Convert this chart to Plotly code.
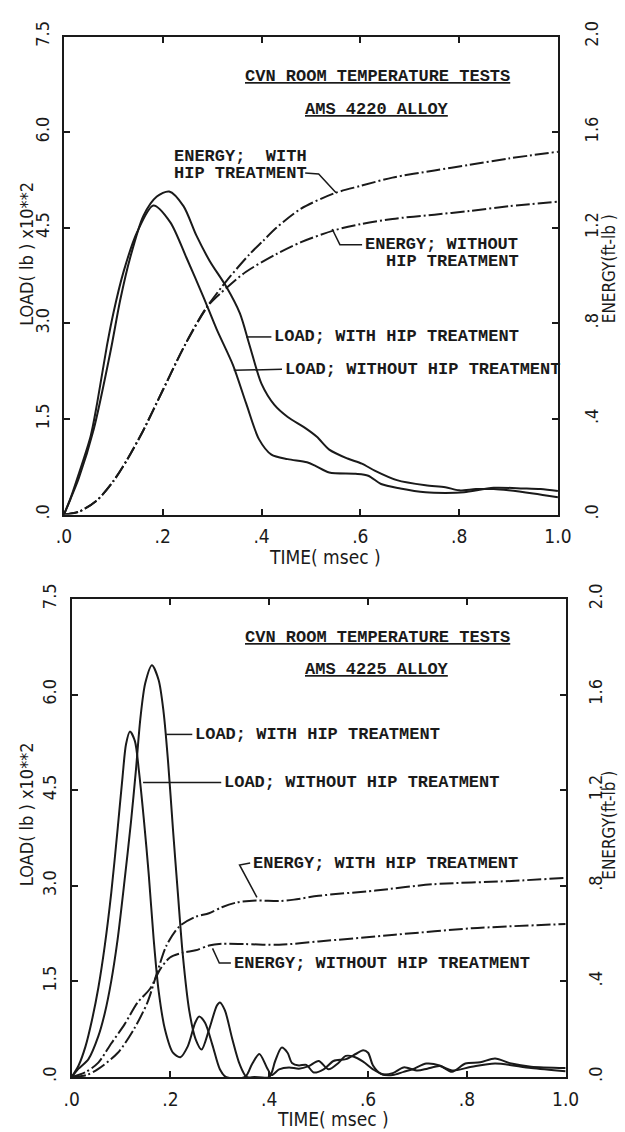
import plotly.graph_objects as go

# ---------------- data ----------------
# AMS 4220 alloy (upper panel)
time_4220_load_hip = [0, .013, .03, .06, .094, .114, .134, .161, .188, .213, .242, .268, .295, .329, .356,
                      .376, .40, .426, .453, .488, .512, .537, .574, .603, .629, .674, .732, .772, .80, .834,
                      .87, .90, .95, 1.0]
load_4220_hip = [0, .24, .57, 1.33, 2.55, 3.37, 4.03, 4.69, 4.99, 5.07, 4.84, 4.38, 3.98, 3.57, 3.16,
                 2.65, 2.05, 1.72, 1.53, 1.36, 1.22, 1.02, .88, .80, .69, .54, .46, .43, .38, .40,
                 .40, .38, .33, .27]

time_4220_load_nohip = [0, .013, .027, .054, .067, .087, .10, .121, .148, .181, .215, .248, .282, .309, .342,
                        .369, .395, .42, .453, .492, .51, .537, .59, .616, .642, .681, .732, .772, .81, .87,
                        .93, .965, 1.0]
load_4220_nohip = [0, .25, .57, 1.23, 1.74, 2.65, 3.16, 3.82, 4.43, 4.85, 4.59, 4.03, 3.42, 2.91, 2.35,
                   1.74, 1.18, .94, .87, .82, .76, .66, .64, .61, .48, .41, .35, .34, .35, .42,
                   .41, .40, .37]

time_4220_energy_hip = [0, .03, .067, .1, .128, .16, .2, .245, .29, .33, .376, .403, .43, .48, .548, .6,
                        .665, .75, .82, .9, 1.0]
energy_4220_hip = [0, .012, .06, .14, .23, .35, .52, .71, .87, .98, 1.09, 1.145, 1.20, 1.28, 1.345, 1.375,
                   1.41, 1.44, 1.463, 1.49, 1.518]

time_4220_energy_nohip = [0, .03, .067, .1, .128, .16, .2, .245, .29, .33, .368, .43, .48, .548, .6, .665,
                          .75, .82, .9, 1.0]
energy_4220_nohip = [0, .012, .06, .14, .23, .35, .52, .71, .87, .95, 1.015, 1.09, 1.14, 1.19, 1.215, 1.237,
                     1.255, 1.27, 1.29, 1.309]

# AMS 4225 alloy (lower panel)
time_4225_load_hip = [0, .014, .034, .054, .067, .08, .093, .107, .12, .13, .139, .149, .1625, .176, .186,
                      .195, .205, .215, .225, .238, .251, .263, .278, .294, .30, .31, .325, .34, .354, .37,
                      .40, .412, .425, .437, .446, .46, .475, .49, .51, .53, .555, .575, .59, .60, .61,
                      .626, .65, .672, .69, .718, .745, .77, .797, .827, .857, .89, .93, 1.0]
load_4225_hip = [0, .13, .28, .64, 1.0, 1.5, 2.16, 3.08, 4.0, 4.81, 5.62, 6.18, 6.46, 6.23, 5.73,
                 4.96, 3.89, 2.88, 1.91, 1.04, .59, .43, .74, 1.12, 1.17, 1.05, .6, .2, 0, 0,
                 0, .25, .46, .38, .22, .18, .19, .07, .12, .25, .28, .36, .42, .38, .18,
                 .05, .03, .08, .12, .21, .18, .08, .21, .23, .29, .21, .16, .14]

time_4225_load_nohip = [0, .014, .028, .041, .054, .067, .08, .093, .103, .11, .118, .128, .136, .146, .156,
                        .166, .176, .189, .205, .22, .235, .25, .258, .27, .285, .30, .312, .351, .365, .38,
                        .395, .405, .42, .44, .46, .48, .50, .52, .54, .555, .57, .59, .61, .63, .65,
                        .672, .70, .72, .745, .77, .81, .857, .93, 1.0]
load_4225_nohip = [0, .18, .48, .89, 1.40, 2.06, 2.88, 3.89, 4.71, 5.22, 5.42, 5.27, 4.81, 4.05, 3.18,
                   2.16, 1.35, .74, .38, .31, .48, .85, .95, .85, .50, .12, 0, 0, .2, .36,
                   .15, .03, .12, .15, .13, .17, .25, .12, .22, .33, .32, .24, .12, .04, .06,
                   .15, .1, .13, .17, .1, .16, .21, .14, .09]

time_4225_energy_hip = [0, .03, .054, .093, .126, .153, .172, .192, .218, .251, .278, .304, .334, .373, .42,
                        .45, .50, .615, .73, .89, 1.0]
energy_4225_hip = [0, .008, .034, .10, .20, .31, .43, .55, .63, .67, .685, .71, .73, .738, .736,
                   .742, .758, .78, .806, .82, .833]

time_4225_energy_nohip = [0, .028, .054, .08, .107, .133, .159, .179, .199, .225, .251, .278, .304, .35, .42,
                          .50, .654, .81, 1.0]
energy_4225_nohip = [0, .02, .06, .14, .22, .31, .37, .45, .50, .52, .53, .55, .557, .556, .553,
                     .567, .595, .622, .64]

time_ticks = [0, .2, .4, .6, .8, 1.0]
time_labels = [".0", ".2", ".4", ".6", ".8", "1.0"]
load_ticks = [0, 1.5, 3.0, 4.5, 6.0, 7.5]
load_labels = [".0", "1.5", "3.0", "4.5", "6.0", "7.5"]
energy_ticks = [0, .4, .8, 1.2, 1.6, 2.0]
energy_labels = [".0", ".4", ".8", "1.2", "1.6", "2.0"]
# ----------------------------------------------------------------

W, H = 625, 1132
FR_TOP = (58, 570, 21, 508)     # x0, x1, ytop, ybottom in px
FR_BOT = (66, 578, 594, 1081)

PLOT_FONT = "Liberation Sans Narrow, Arial Narrow, DejaVu Sans Condensed, Roboto Condensed, Liberation Sans, sans-serif"
TEXT_FONT = "Liberation Mono, DejaVu Sans Mono, monospace"
INK = "#1a1a1a"


def px(x, y):
    return x / W, 1 - y / H


def dom(fr):
    x0, x1, yt, yb = fr
    return [x0 / W, x1 / W], [1 - yb / H, 1 - yt / H]


fig = go.Figure()

load_line = dict(color=INK, width=2, shape="spline", smoothing=0.8)
energy_line = dict(color=INK, width=2, dash="14px,3px,2px,3px", shape="spline", smoothing=0.8)

fig.add_trace(go.Scatter(x=time_4220_load_hip, y=load_4220_hip, mode="lines", line=load_line,
                         xaxis="x", yaxis="y"))
fig.add_trace(go.Scatter(x=time_4220_load_nohip, y=load_4220_nohip, mode="lines", line=load_line,
                         xaxis="x", yaxis="y"))
fig.add_trace(go.Scatter(x=time_4220_energy_hip, y=energy_4220_hip, mode="lines", line=energy_line,
                         xaxis="x", yaxis="y2"))
fig.add_trace(go.Scatter(x=time_4220_energy_nohip, y=energy_4220_nohip, mode="lines", line=energy_line,
                         xaxis="x", yaxis="y2"))

fig.add_trace(go.Scatter(x=time_4225_load_hip, y=load_4225_hip, mode="lines", line=load_line,
                         xaxis="x2", yaxis="y3"))
fig.add_trace(go.Scatter(x=time_4225_load_nohip, y=load_4225_nohip, mode="lines", line=load_line,
                         xaxis="x2", yaxis="y3"))
fig.add_trace(go.Scatter(x=time_4225_energy_hip, y=energy_4225_hip, mode="lines", line=energy_line,
                         xaxis="x2", yaxis="y4"))
fig.add_trace(go.Scatter(x=time_4225_energy_nohip, y=energy_4225_nohip, mode="lines", line=energy_line,
                         xaxis="x2", yaxis="y4"))

xtick_font = dict(family=PLOT_FONT, size=19, color=INK)
ytick_font = dict(family=PLOT_FONT, size=18, color=INK)


def xaxis_cfg(fr, anchor):
    d, _ = dom(fr)
    return dict(domain=d, anchor=anchor, range=[0, 1], tickvals=time_ticks, ticktext=time_labels,
                ticks="inside", ticklen=6, tickwidth=2, tickcolor=INK, showline=True, linewidth=2,
                linecolor=INK, mirror="ticks", showgrid=False, zeroline=False, tickfont=xtick_font,
                ticklabelstandoff=4, fixedrange=True)


def yaxis_cfg(fr, anchor, rng, tv, tt, side="left", overlaying=None, standoff=4):
    _, d = dom(fr)
    cfg = dict(domain=d, anchor=anchor, range=rng, tickvals=tv, ticktext=tt, side=side,
               ticks="inside", ticklen=6, tickwidth=2, tickcolor=INK, showline=True, linewidth=2,
               linecolor=INK, showgrid=False, zeroline=False, tickfont=ytick_font, tickangle=-90,
               ticklabelstandoff=standoff, fixedrange=True)
    if overlaying:
        cfg["overlaying"] = overlaying
    return cfg


layout = dict(
    width=W, height=H, margin=dict(l=0, r=0, t=0, b=0), autosize=False,
    paper_bgcolor="white", plot_bgcolor="white", showlegend=False,
    xaxis=xaxis_cfg(FR_TOP, "y"),
    yaxis=yaxis_cfg(FR_TOP, "x", [0, 7.5], load_ticks, load_labels, standoff=6),
    yaxis2=yaxis_cfg(FR_TOP, "x", [0, 2.0], energy_ticks, energy_labels, side="right", overlaying="y",
                     standoff=16),
    xaxis2=xaxis_cfg(FR_BOT, "y3"),
    yaxis3=yaxis_cfg(FR_BOT, "x2", [0, 7.5], load_ticks, load_labels, standoff=6),
    yaxis4=yaxis_cfg(FR_BOT, "x2", [0, 2.0], energy_ticks, energy_labels, side="right", overlaying="y3",
                     standoff=13),
)
fig.update_layout(**layout)

annotations = []


def note(text, x, y, size=17, bold=True, anchor="left", angle=0, family=TEXT_FONT):
    ax, ay = px(x, y)
    annotations.append(dict(text=("<b>%s</b>" % text) if bold else text, x=ax, y=ay, xref="paper",
                            yref="paper", xanchor=anchor, yanchor="middle", showarrow=False,
                            textangle=angle, font=dict(family=family, size=size, color=INK)))


# axis titles
for fr in (FR_TOP, FR_BOT):
    x0, x1, yt, yb = fr
    note("TIME( msec )", (x0 + x1) / 2 + 15, yb + 43, size=19, bold=False, anchor="center", family=PLOT_FONT)
note("LOAD( lb ) x10**2", 19, 242, size=18, bold=False, anchor="center", angle=-90, family=PLOT_FONT)
note("LOAD( lb ) x10**2", 20, 813, size=18, bold=False, anchor="center", angle=-90, family=PLOT_FONT)
note("ENERGY(ft-lb )", 623, 258, size=17, bold=False, anchor="center", angle=-90, family=PLOT_FONT)
note("ENERGY(ft-lb )", 623, 825, size=17, bold=False, anchor="center", angle=-90, family=PLOT_FONT)

# upper panel labels
note("<u>CVN ROOM TEMPERATURE TESTS</u>", 244, 62)
note("<u>AMS 4220 ALLOY</u>", 306, 95)
note("ENERGY;  WITH", 170, 143)
note("HIP TREATMENT", 170, 160)
note("ENERGY; WITHOUT", 368, 233)
note("HIP TREATMENT", 390, 250)
note("LOAD; WITH HIP TREATMENT", 274, 327)
note("LOAD; WITHOUT HIP TREATMENT", 285, 360)

# lower panel labels
note("<u>CVN ROOM TEMPERATURE TESTS</u>", 244, 633)
note("<u>AMS 4225 ALLOY</u>", 306, 666)
note("LOAD; WITH HIP TREATMENT", 192, 732)
note("LOAD; WITHOUT HIP TREATMENT", 222, 781)
note("ENERGY; WITH HIP TREATMENT", 252, 864)
note("ENERGY; WITHOUT HIP TREATMENT", 232, 965)

fig.update_layout(annotations=annotations)

# leader lines (px polylines)
leaders = [
    [(308, 160), (322, 161), (340, 180)],
    [(336, 217), (344, 233), (367, 233)],
    [(247, 327), (273, 327)],
    [(234, 361), (284, 360)],
    [(164, 732), (191, 732)],
    [(140, 781), (221, 781)],
    [(258, 898), (240, 865), (251, 863)],
    [(212, 950), (219, 965), (231, 965)],
]
shapes = []
for pts in leaders:
    path = ""
    for i, (a, b) in enumerate(pts):
        X, Y = px(a, b)
        path += ("M" if i == 0 else "L") + "%.5f,%.5f" % (X, Y)
    shapes.append(dict(type="path", path=path, xref="paper", yref="paper",
                       line=dict(color=INK, width=1.5)))
fig.update_layout(shapes=shapes)

fig.write_html("out.html")
